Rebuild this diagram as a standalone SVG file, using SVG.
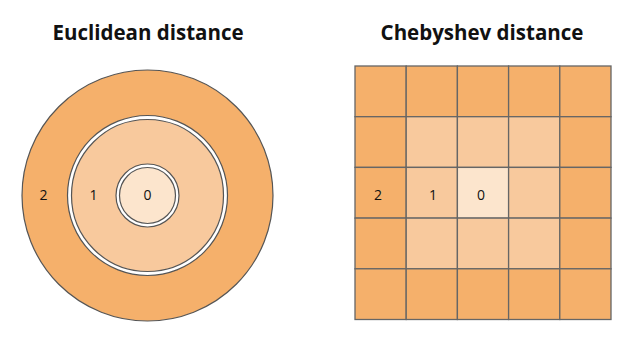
<svg xmlns="http://www.w3.org/2000/svg" width="623" height="340" viewBox="0 0 623 340">
  <style>
    .title { font-family: "Open Sans", "DejaVu Sans", sans-serif; font-weight: bold; font-size: 20.5px; fill: #111; text-anchor: middle; }
    .lbl { font-family: "Open Sans", "DejaVu Sans", sans-serif; font-size: 14px; fill: #111; text-anchor: middle; }
    .ring { stroke: #555; stroke-width: 1.2; }
    .c2 { fill: #F5B06B; }
    .c1 { fill: #F8C99D; }
    .c0 { fill: #FCE5CD; }
    .gap { fill: #FFFFFF; }
    .cell { stroke: #666; stroke-width: 1.3; }
  </style>
  <rect width="623" height="340" fill="#FFFFFF"/>
  <text class="title" x="148" y="40">Euclidean distance</text>
  <text class="title" x="482" y="40">Chebyshev distance</text>

  <g id="euclidean">
    <circle class="ring c2" cx="147.5" cy="195.5" r="125.5"/>
    <circle class="ring gap" cx="147.5" cy="195.5" r="80"/>
    <circle class="ring c1" cx="147.5" cy="195.5" r="76"/>
    <circle class="ring gap" cx="147.5" cy="195.5" r="31.5"/>
    <circle class="ring c0" cx="147.5" cy="195.5" r="28"/>
    <text class="lbl" x="43.5" y="200">2</text>
    <text class="lbl" x="93.5" y="200">1</text>
    <text class="lbl" x="147.5" y="200">0</text>
  </g>

  <g id="chebyshev">
    <rect class="cell c2" x="355" y="66" width="51.2" height="50.7"/>
    <rect class="cell c2" x="406.2" y="66" width="51.2" height="50.7"/>
    <rect class="cell c2" x="457.4" y="66" width="51.2" height="50.7"/>
    <rect class="cell c2" x="508.6" y="66" width="51.2" height="50.7"/>
    <rect class="cell c2" x="559.8" y="66" width="51.2" height="50.7"/>

    <rect class="cell c2" x="355" y="116.7" width="51.2" height="50.7"/>
    <rect class="cell c1" x="406.2" y="116.7" width="51.2" height="50.7"/>
    <rect class="cell c1" x="457.4" y="116.7" width="51.2" height="50.7"/>
    <rect class="cell c1" x="508.6" y="116.7" width="51.2" height="50.7"/>
    <rect class="cell c2" x="559.8" y="116.7" width="51.2" height="50.7"/>

    <rect class="cell c2" x="355" y="167.4" width="51.2" height="50.7"/>
    <rect class="cell c1" x="406.2" y="167.4" width="51.2" height="50.7"/>
    <rect class="cell c0" x="457.4" y="167.4" width="51.2" height="50.7"/>
    <rect class="cell c1" x="508.6" y="167.4" width="51.2" height="50.7"/>
    <rect class="cell c2" x="559.8" y="167.4" width="51.2" height="50.7"/>

    <rect class="cell c2" x="355" y="218.1" width="51.2" height="50.7"/>
    <rect class="cell c1" x="406.2" y="218.1" width="51.2" height="50.7"/>
    <rect class="cell c1" x="457.4" y="218.1" width="51.2" height="50.7"/>
    <rect class="cell c1" x="508.6" y="218.1" width="51.2" height="50.7"/>
    <rect class="cell c2" x="559.8" y="218.1" width="51.2" height="50.7"/>

    <rect class="cell c2" x="355" y="268.8" width="51.2" height="50.7"/>
    <rect class="cell c2" x="406.2" y="268.8" width="51.2" height="50.7"/>
    <rect class="cell c2" x="457.4" y="268.8" width="51.2" height="50.7"/>
    <rect class="cell c2" x="508.6" y="268.8" width="51.2" height="50.7"/>
    <rect class="cell c2" x="559.8" y="268.8" width="51.2" height="50.7"/>

    <text class="lbl" x="378" y="199.5">2</text>
    <text class="lbl" x="433" y="199.5">1</text>
    <text class="lbl" x="481" y="199.5">0</text>
  </g>
</svg>
